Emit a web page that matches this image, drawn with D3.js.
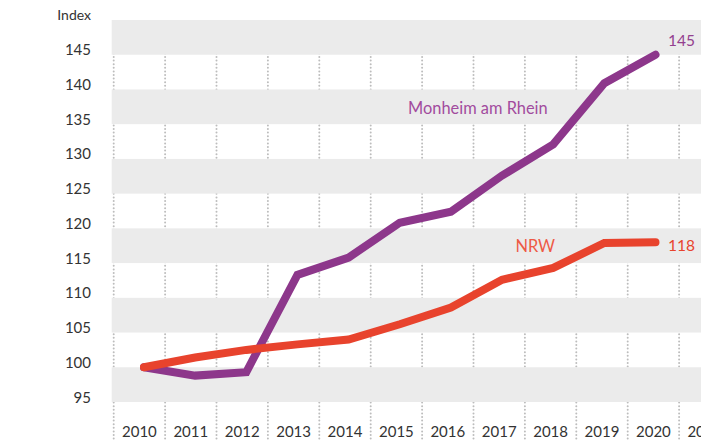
<!DOCTYPE html>
<html>
<head>
<meta charset="utf-8">
<script src="https://cdn.jsdelivr.net/npm/d3@7"></script>
<style>
html,body{margin:0;padding:0;background:#fff;}
svg{display:block;font-family:Lato,"Noto Sans",sans-serif;}
</style>
</head>
<body>
<svg id="chart" width="701" height="441"></svg>
<script>
const years = [2010,2011,2012,2013,2014,2015,2016,2017,2018,2019,2020];
const axisYears = [2010,2011,2012,2013,2014,2015,2016,2017,2018,2019,2020,2021];
const monheim = [100,98.8,99.3,113.3,115.8,120.8,122.4,127.6,132.1,140.9,145];
const nrw = [100,101.4,102.5,103.3,104.0,106.2,108.6,112.6,114.3,117.9,118];
const yTicks = [95,100,105,110,115,120,125,130,135,140,145];
const bandStarts = [95,105,115,125,135,145];

const svg = d3.select("#chart");
const x = d3.scaleBand().domain(axisYears).range([113.7, 113.7 + 12*51.4]).padding(0);
const xl = d3.scaleLinear().domain([2010,2020]).range([144, 655.5]);
const y = d3.scaleLinear().domain([95,150]).range([402,20]);

// dotted vertical grid
svg.append("g").selectAll("line").data(axisYears).join("line")
  .attr("x1", d => x(d)).attr("x2", d => x(d))
  .attr("y1", 21).attr("y2", 440)
  .attr("stroke", "#bdbdbd").attr("stroke-width", 2)
  .attr("stroke-linecap", "round")
  .attr("stroke-dasharray", "0,3.6");

// gray bands
svg.append("g").selectAll("rect").data(bandStarts).join("rect")
  .attr("x", 111.7).attr("width", 701-111.7)
  .attr("y", d => y(d+5)).attr("height", d => y(d) - y(d+5))
  .attr("fill", "#ebebeb");

// y tick labels
svg.append("g").selectAll("text").data(yTicks).join("text")
  .attr("x", 91).attr("y", d => y(d) + 0.5)
  .attr("text-anchor", "end").attr("font-size", 15).attr("fill", "#333")
  .text(d => d);
svg.append("text").attr("x", 91).attr("y", 20).attr("text-anchor","end")
  .attr("font-size", 14).attr("fill","#333").text("Index");

// x labels
svg.append("g").selectAll("text").data(axisYears).join("text")
  .attr("x", d => x(d) + x.bandwidth()/2).attr("y", 437)
  .attr("text-anchor","middle").attr("font-size", 15).attr("fill","#333")
  .text(d => d);

const line = d3.line().x((d,i) => xl(years[i])).y(d => y(d));

svg.append("path").datum(monheim).attr("d", line)
  .attr("fill","none").attr("stroke","#8d378b").attr("stroke-width",8)
  .attr("stroke-linecap","round").attr("stroke-linejoin","miter");
svg.append("path").datum(nrw).attr("d", line)
  .attr("fill","none").attr("stroke","#e8432d").attr("stroke-width",8)
  .attr("stroke-linecap","round").attr("stroke-linejoin","miter");

// labels
svg.append("text").attr("x", 668).attr("y", 46).attr("font-size",15.5)
  .attr("fill","#93408f").text(monheim[monheim.length-1]);
svg.append("text").attr("x", 408).attr("y", 113.5).attr("font-size",16.4)
  .attr("fill","#a24b9e").text("Monheim am Rhein");
svg.append("text").attr("x", 515.5).attr("y", 251.5).attr("font-size",16.4)
  .attr("fill","#ee5a45").text("NRW");
svg.append("text").attr("x", 668).attr("y", 251).attr("font-size",15.5)
  .attr("fill","#e8432d").text(nrw[nrw.length-1]);
</script>
</body>
</html>
